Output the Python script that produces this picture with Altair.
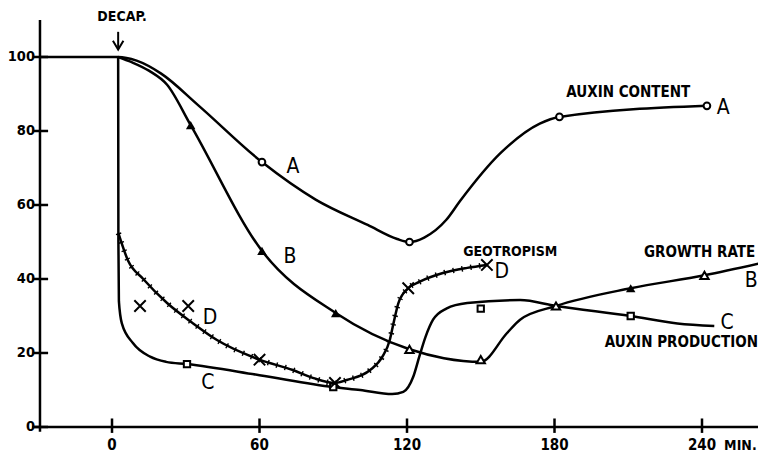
import altair as alt
import pandas as pd

# ---- data (time in minutes, value in % ) ----
A_t = [-29.3, 2.5, 10, 20, 35, 61, 83, 104, 116, 121, 127, 136, 141.5, 158, 174, 182, 242]
A_v = [100, 100, 99, 95.5, 87, 71.6, 61.4, 54.6, 50.8, 50, 51.2, 56, 61, 74, 82, 83.8, 86.8]

B_t = [2.5, 8, 15, 22.4, 32, 61, 91, 121, 135, 150, 160.7, 166, 180.6, 211, 241, 266]
B_v = [100, 98.6, 96.3, 92.5, 81.6, 47.6, 30.8, 21, 18.6, 17.6, 25.4, 29, 32.7, 37.5, 41, 44.6]

C_t = [2.5, 2.6, 2.8, 4, 8.5, 15.5, 22, 30.5, 60, 90, 101, 114, 118.5, 122.5, 125, 127.5,
       130.6, 136, 144.5, 166, 180.6, 211, 230, 245]
C_v = [100, 50, 34, 28, 22.7, 19, 17.6, 17, 14, 10.8, 10, 8.9, 9.5, 13.5, 19, 24.3,
       29, 32, 33.5, 34.3, 32.7, 30, 28, 27.3]

D_t = [2.6, 6.5, 12.7, 22.4, 33, 42.7, 60, 73.6, 82, 90.7, 95.5, 105, 110, 113, 114.5,
       116.5, 120.5, 125, 134.6, 144.5, 152.5]
D_v = [52.4, 45, 40, 33.5, 28, 23.5, 18.2, 15.4, 13.2, 11.9, 12.7, 15.4, 19, 23.5, 28,
       33.5, 37.5, 39.2, 41.6, 43, 43.8]

# markers
A_mark_t = [61, 121, 182, 242]
A_mark_v = [71.6, 50, 83.8, 86.8]
B_fill_t = [32, 61, 91, 211]
B_fill_v = [81.6, 47.6, 30.8, 37.5]
B_open_t = [121, 150, 180.6, 241]
B_open_v = [21, 18.2, 32.7, 41]
C_mark_t = [30.5, 90, 150, 211]
C_mark_v = [17, 10.8, 32, 30]
D_mark_t = [11.4, 31, 60, 90.7, 120.5, 152.5]
D_mark_v = [32.7, 32.7, 18.2, 11.9, 37.5, 43.8]

x_ticks = [0, 60, 120, 180, 240]
x_tick_labels = ["0", "60", "120", "180", "240"]
y_ticks = [0, 20, 40, 60, 80, 100]
y_tick_labels = ["0", "20", "40", "60", "80", "100"]

letters = ["A", "B", "D", "C", "D", "A", "B", "C"]
letters_t = [73.6, 72.4, 39.9, 39, 158.6, 248.6, 260.0, 250.2]
letters_v = [70.3, 45.9, 29.5, 11.9, 41.9, 86.2, 39.4, 28.1]

names = ["AUXIN  CONTENT", "GEOTROPISM", "GROWTH  RATE", "AUXIN  PRODUCTION"]
names_t = [210, 162, 239.0, 231.6]
names_v = [90.5, 47.3, 47.3, 23]
names_size = [15, 14, 15, 15]

# ---- scales ----
XMIN, XMAX = -42.31, 262.78
YMIN, YMAX = -7.03, 113.24
xs = alt.Scale(domain=[XMIN, XMAX], nice=False, zero=False)
ys = alt.Scale(domain=[YMIN, YMAX], nice=False, zero=False)
FONT = "DejaVu Sans Condensed"


def X(f="t"):
    return alt.X(f + ":Q", scale=xs, axis=None)


def Y(f="v"):
    return alt.Y(f + ":Q", scale=ys, axis=None)


# ---- axes drawn as rules ----
Y_AXIS_T = -29.3
axis_rows = [
    dict(t=Y_AXIS_T, t2=Y_AXIS_T, v=-1.3, v2=110),
    dict(t=-32.5, t2=XMAX, v=0, v2=0),
]
for yt in y_ticks:
    axis_rows.append(dict(t=-32.3, t2=-26, v=yt, v2=yt))
for xt in x_ticks:
    axis_rows.append(dict(t=xt, t2=xt, v=2.3, v2=-1.6))
axis_df = pd.DataFrame(axis_rows)
axes = alt.Chart(axis_df).mark_rule(color="black", strokeWidth=2.5).encode(
    x=X(), x2="t2:Q", y=Y(), y2="v2:Q")

ylab = alt.Chart(pd.DataFrame({"t": [Y_AXIS_T] * 6, "v": y_ticks, "lab": y_tick_labels})).mark_text(
    align="right", baseline="middle", dx=-5, font=FONT, fontWeight="bold", fontSize=14.5, color="black"
).encode(x=X(), y=Y(), text="lab:N")

xlab = alt.Chart(pd.DataFrame({"t": x_ticks, "v": [-5.0] * 5, "lab": x_tick_labels})).mark_text(
    align="center", baseline="middle", font=FONT, fontWeight="bold", fontSize=15, color="black"
).encode(x=X(), y=Y(), text="lab:N")

minlab = alt.Chart(pd.DataFrame({"t": [249.0], "v": [-5.2], "lab": ["MIN."]})).mark_text(
    align="left", baseline="middle", font=FONT, fontWeight="bold", fontSize=14, color="black"
).encode(x=X(), y=Y(), text="lab:N")

# ---- curves ----
rows = []
for s, ts, vs in [("A", A_t, A_v), ("B", B_t, B_v), ("C", C_t, C_v), ("D", D_t, D_v)]:
    for t, v in zip(ts, vs):
        rows.append(dict(series=s, t=t, v=v))
curves_df = pd.DataFrame(rows)

curves = alt.Chart(curves_df).mark_line(
    color="black", strokeWidth=2.5, interpolate="monotone"
).encode(x=X(), y=Y(), detail="series:N")

hatch = alt.Chart(curves_df[curves_df.series == "D"]).mark_line(
    color="black", strokeWidth=5.5, interpolate="monotone", strokeDash=[1.4, 7.5], strokeCap="butt"
).encode(x=X(), y=Y())

# ---- markers ----
circ = alt.Chart(pd.DataFrame({"t": A_mark_t, "v": A_mark_v})).mark_point(
    shape="circle", filled=True, fill="white", stroke="black", strokeWidth=2, size=45, opacity=1
).encode(x=X(), y=Y())
trif = alt.Chart(pd.DataFrame({"t": B_fill_t, "v": B_fill_v})).mark_point(
    shape="triangle-up", filled=True, color="black", size=90, opacity=1
).encode(x=X(), y=Y())
trio = alt.Chart(pd.DataFrame({"t": B_open_t, "v": B_open_v})).mark_point(
    shape="triangle-up", filled=True, fill="white", stroke="black", strokeWidth=2, size=70, opacity=1
).encode(x=X(), y=Y())
sq = alt.Chart(pd.DataFrame({"t": C_mark_t, "v": C_mark_v})).mark_point(
    shape="square", filled=True, fill="white", stroke="black", strokeWidth=2, size=40, opacity=1
).encode(x=X(), y=Y())
xm = alt.Chart(pd.DataFrame({"t": D_mark_t, "v": D_mark_v})).mark_point(
    shape="M-1,-1L1,1M-1,1L1,-1", filled=False, stroke="black", strokeWidth=2, size=130, opacity=1
).encode(x=X(), y=Y())

# ---- decapitation arrow ----
arrow_shaft = alt.Chart(pd.DataFrame({"t": [2.5], "v": [106.8], "v2": [102.2]})).mark_rule(
    color="black", strokeWidth=2).encode(x=X(), y=Y(), y2="v2:Q")
arrow_head = alt.Chart(pd.DataFrame({"t": [2.5], "v": [102.0]})).mark_point(
    shape="M-1,-1.7L0,0L1,-1.7", filled=False, stroke="black", strokeWidth=2, size=110, opacity=1
).encode(x=X(), y=Y())
decap = alt.Chart(pd.DataFrame({"t": [4.1], "v": [110.8], "lab": ["DECAP."]})).mark_text(
    align="center", baseline="middle", font=FONT, fontWeight="bold", fontSize=14, color="black"
).encode(x=X(), y=Y(), text="lab:N")

# ---- labels ----
letter_txt = alt.Chart(pd.DataFrame({"t": letters_t, "v": letters_v, "lab": letters})).mark_text(
    align="center", baseline="middle", font=FONT, fontSize=21, color="black"
).encode(x=X(), y=Y(), text="lab:N")
name_txt = alt.Chart(pd.DataFrame({"t": names_t, "v": names_v, "lab": names, "fs": names_size})).mark_text(
    align="center", baseline="middle", font=FONT, fontWeight="bold", color="black"
).encode(x=X(), y=Y(), text="lab:N", size=alt.Size("fs:Q", scale=None, legend=None))

chart = alt.layer(
    axes, ylab, xlab, minlab, curves, hatch, circ, trif, trio, sq, xm,
    arrow_shaft, arrow_head, decap, letter_txt, name_txt
).properties(
    width=750, height=445, padding=0, autosize="none", background="white"
).configure_view(stroke=None)

chart.save("out.html", embed_options={"renderer": "svg", "actions": False})
